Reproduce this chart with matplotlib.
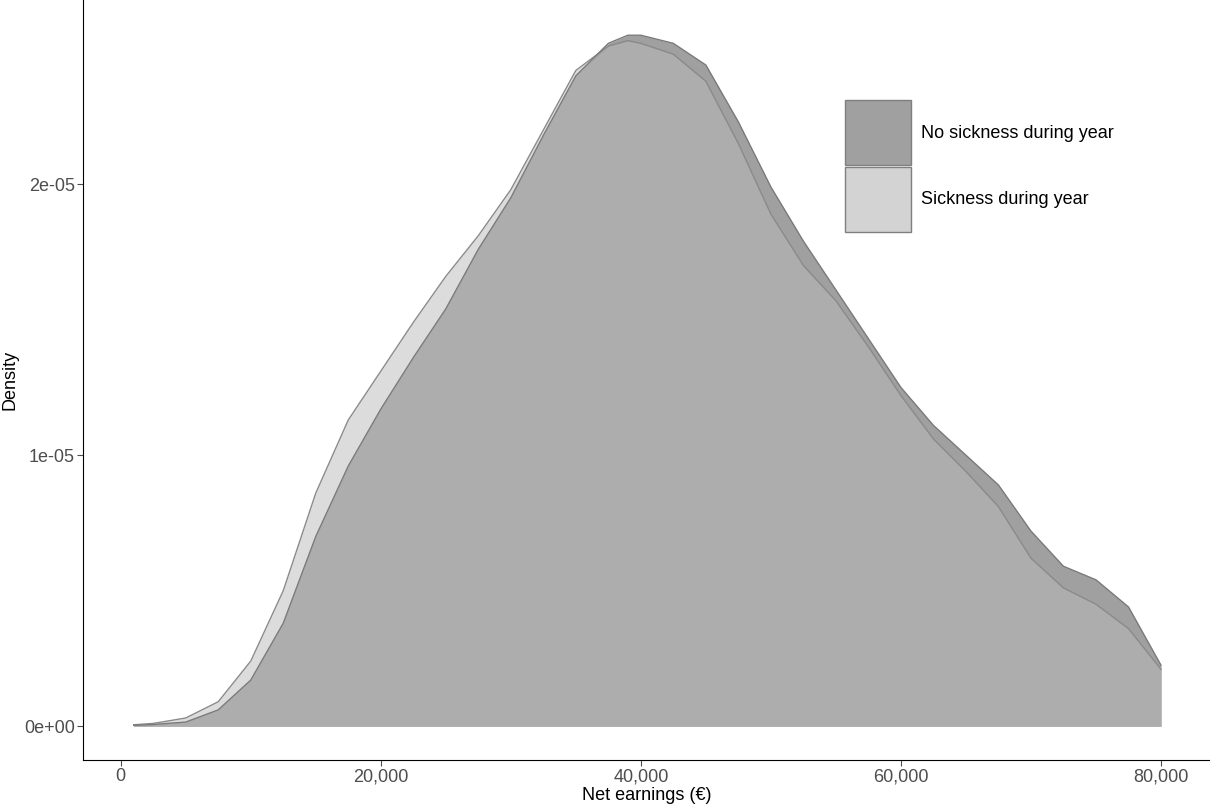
import numpy as np
import matplotlib.pyplot as plt
from matplotlib.patches import Rectangle
from matplotlib.ticker import FuncFormatter

plt.rcParams['font.family'] = ['Liberation Sans', 'DejaVu Sans']

# x in thousands of euros, densities in 1e-6
x_k = [1, 2.5, 5, 7.5, 10, 12.5, 15, 17.5, 20, 22.5, 25, 27.5, 30, 32.5, 35, 37.5, 39, 40,
       42.5, 45, 47.5, 50, 52.5, 55, 57.5, 60, 62.5, 65, 67.5, 70, 72.5, 75, 77.5, 80]
sick = [0.05, 0.1, 0.3, 0.9, 2.4, 5.0, 8.6, 11.3, 13.1, 14.9, 16.6, 18.1, 19.8, 22.0, 24.2, 25.1, 25.3, 25.2,
        24.8, 23.8, 21.5, 18.9, 17.0, 15.7, 14.0, 12.2, 10.6, 9.4, 8.1, 6.2, 5.1, 4.5, 3.6, 2.1]
no_sick = [0.03, 0.06, 0.15, 0.6, 1.7, 3.8, 7.0, 9.6, 11.7, 13.6, 15.4, 17.6, 19.5, 21.8, 24.0, 25.2, 25.5, 25.5,
           25.2, 24.4, 22.3, 19.9, 17.9, 16.1, 14.3, 12.5, 11.1, 10.0, 8.9, 7.2, 5.9, 5.4, 4.4, 2.25]
labels = ["No sickness during year", "Sickness during year"]

x = np.array(x_k) * 1000
ys = np.array(sick) * 1e-6
yn = np.array(no_sick) * 1e-6

fig = plt.figure(figsize=(12.1, 8.1), dpi=100)
ax = fig.add_axes([83/1210, 50/810, 1 - 83/1210, 1 - 50/810])

ax.fill_between(x, 0, ys, color="#dcdcdc", lw=0)
ax.fill_between(x, 0, yn, color="#a0a0a0", lw=0)
ax.fill_between(x, 0, np.minimum(ys, yn), color="#adadad", lw=0)
ax.plot(x, ys, color="#8a8a8a", lw=1)
ax.plot(x, yn, color="#7a7a7a", lw=1)

ax.set_xlim(-2900, 83770)
ax.set_ylim(-1.25e-6, 26.8e-6)
ax.set_xticks([0, 20000, 40000, 60000, 80000])
ax.xaxis.set_major_formatter(FuncFormatter(lambda v, p: f"{int(v):,}"))
ax.set_yticks([0, 1e-5, 2e-5])
ax.set_yticklabels(["0e+00", "1e-05", "2e-05"])
ax.tick_params(labelsize=13, colors="#4d4d4d", length=4, pad=2)
ax.spines["top"].set_visible(False)
ax.spines["right"].set_visible(False)
ax.set_xlabel("Net earnings (€)", fontsize=13, labelpad=1)
ax.set_ylabel("Density", fontsize=13, labelpad=4)

# legend boxes
for i, (lab, col) in enumerate(zip(labels, ["#a0a0a0", "#d3d3d3"])):
    top = 100 + i * 67
    fig.add_artist(Rectangle((845/1210, 1 - (top + 65)/810), 66/1210, 65/810,
                             transform=fig.transFigure, facecolor=col, edgecolor="#7f7f7f", lw=1))
    fig.text(921/1210, 1 - (top + 33)/810, lab, fontsize=13, va="center")

fig.savefig("out.png")
